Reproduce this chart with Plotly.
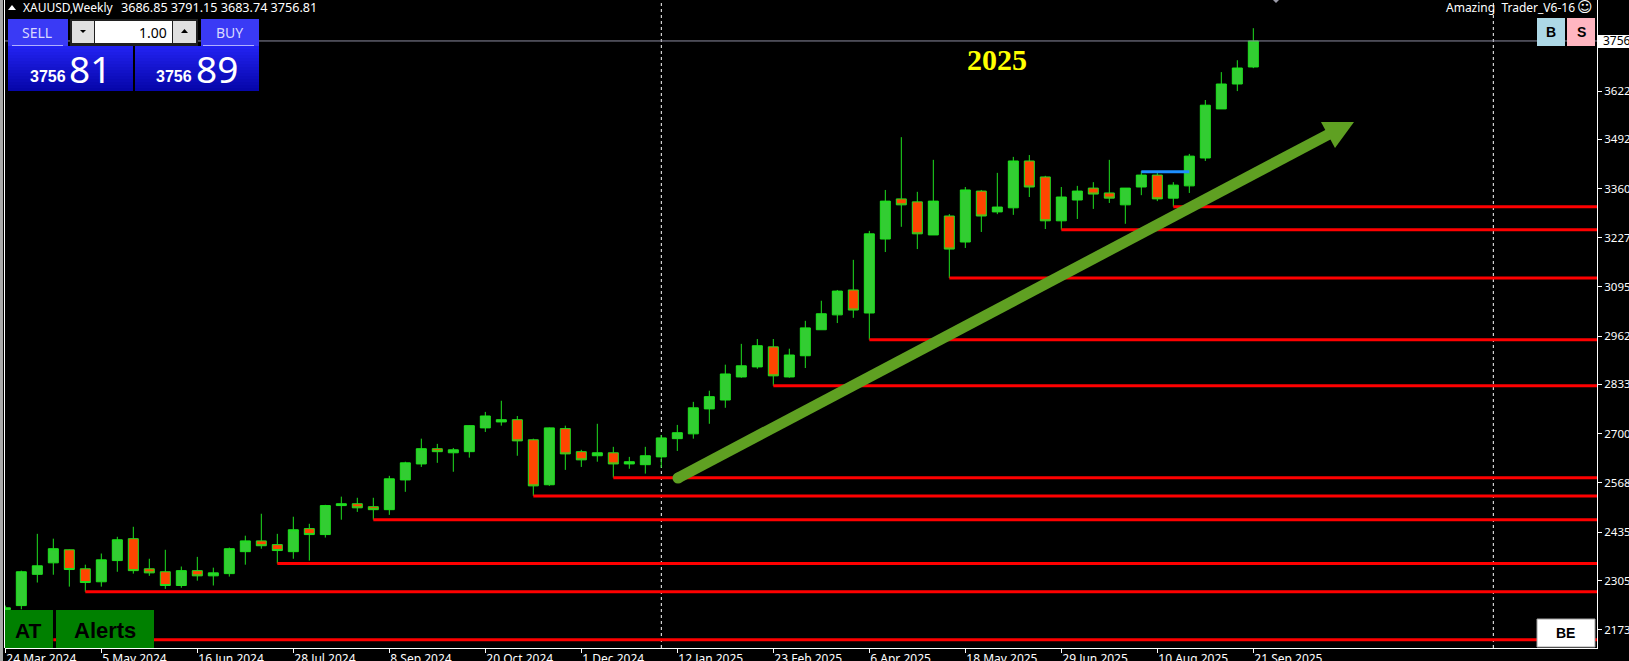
import plotly.graph_objects as go

# weekly XAUUSD candles, index = week number from 24 Mar 2024
opens = [2227, 2238, 2322, 2353, 2388, 2337, 2302, 2359, 2418, 2337, 2329, 2292, 2332, 2318, 2324, 2383,
         2412, 2402, 2383, 2445, 2429, 2507, 2512, 2504, 2496, 2576, 2619, 2660, 2649, 2652, 2716, 2732,
         2738, 2684, 2563, 2714, 2652, 2641, 2649, 2619, 2617, 2638, 2687, 2700, 2767, 2791, 2853, 2880,
         2934, 2853, 2910, 2980, 3020, 3087, 3025, 3224, 3332, 3324, 3235, 3286, 3216, 3353, 3297, 3308,
         3434, 3391, 3273, 3329, 3361, 3348, 3316, 3364, 3396, 3334, 3367, 3442, 3574, 3641, 3686.85]
highs = [2238, 2332, 2431, 2418, 2389, 2348, 2378, 2423, 2450, 2364, 2388, 2343, 2369, 2340, 2394, 2426,
         2485, 2431, 2477, 2458, 2509, 2531, 2528, 2528, 2587, 2625, 2687, 2673, 2662, 2723, 2759, 2789,
         2748, 2687, 2717, 2722, 2657, 2727, 2665, 2638, 2665, 2697, 2724, 2786, 2816, 2886, 2942, 2955,
         2955, 2929, 3004, 3058, 3087, 3168, 3246, 3356, 3498, 3351, 3437, 3291, 3364, 3356, 3402, 3445,
         3450, 3394, 3364, 3367, 3377, 3437, 3361, 3407, 3404, 3377, 3453, 3598, 3673, 3705, 3791.15]
lows = [2227, 2228, 2300, 2321, 2289, 2275, 2289, 2329, 2324, 2318, 2283, 2286, 2305, 2292, 2316, 2348,
        2391, 2351, 2364, 2359, 2421, 2469, 2490, 2469, 2482, 2544, 2611, 2622, 2598, 2636, 2705, 2722,
        2641, 2533, 2560, 2603, 2611, 2625, 2582, 2606, 2593, 2609, 2654, 2687, 2727, 2770, 2851, 2875,
        2829, 2851, 2877, 2980, 2998, 3012, 2953, 3189, 3257, 3197, 3235, 3119, 3200, 3243, 3291, 3289,
        3337, 3251, 3249, 3278, 3305, 3321, 3265, 3342, 3326, 3311, 3348, 3434, 3574, 3622, 3683.74]
closes = [2232, 2329, 2345, 2391, 2335, 2300, 2361, 2415, 2332, 2326, 2292, 2332, 2318, 2326, 2391, 2412,
          2399, 2386, 2442, 2429, 2507, 2512, 2501, 2496, 2579, 2622, 2660, 2652, 2657, 2722, 2748, 2738,
          2681, 2560, 2716, 2646, 2630, 2649, 2619, 2625, 2641, 2689, 2703, 2770, 2800, 2861, 2883, 2937,
          2856, 2912, 2985, 3023, 3084, 3033, 3238, 3326, 3316, 3238, 3326, 3197, 3356, 3286, 3310, 3434,
          3364, 3273, 3337, 3353, 3345, 3334, 3361, 3396, 3332, 3369, 3447, 3584, 3641, 3684, 3756.81]

x_tick_weeks = [0, 6, 12, 18, 24, 30, 36, 42, 48, 54, 60, 66, 72, 78]
x_tick_labels = ['24 Mar 2024', '5 May 2024', '16 Jun 2024', '28 Jul 2024', '8 Sep 2024', '20 Oct 2024',
                 '1 Dec 2024', '12 Jan 2025', '23 Feb 2025', '6 Apr 2025', '18 May 2025', '29 Jun 2025',
                 '10 Aug 2025', '21 Sep 2025']
y_ticks = [2173, 2305, 2435, 2568, 2700, 2833, 2962, 3095, 3227, 3360, 3492, 3622]

support_weeks = [3, 5, 17, 23, 33, 38, 48, 54, 59, 66, 73]
support_prices = [2146, 2275, 2351, 2469, 2533, 2582, 2829, 2953, 3119, 3249, 3311]
blue_weeks = [71, 74]
blue_price = [3405, 3405]
year_breaks = [41, 93]
last_price = 3756.81

W, H = 1629, 661
L, R, B = 5, 32, 13
PLOT_W, PLOT_H = W - L - R, H - B
X_RANGE = [-0.02, -0.02 + PLOT_W / 16]
Y_RANGE = [3867 - PLOT_H * 2.69, 3867]

FONT = 'Noto Sans'
WHITE = '#ffffff'
GREEN_EDGE = '#1fe01f'


def px(x):
    return (x - L) / PLOT_W


def py(y):
    return 1 - y / PLOT_H


def box(x0, y0, x1, y1, fill, line=None):
    return dict(type='rect', xref='paper', yref='paper', x0=px(x0), x1=px(x1), y0=py(y1), y1=py(y0),
                fillcolor=fill, line=dict(color=line or fill, width=1 if line else 0))


def poly(points, fill):
    d = 'M ' + ' L '.join(f'{px(a):.5f},{py(b):.5f}' for a, b in points) + ' Z'
    return dict(type='path', xref='paper', yref='paper', path=d, fillcolor=fill, line=dict(width=0))


def label(x, y, text, size=11.5, color=WHITE, anchor='center', family=FONT):
    return dict(x=px(x), y=py(y), xref='paper', yref='paper', text=text, showarrow=False,
                xanchor=anchor, yanchor='middle', font=dict(size=size, color=color, family=family),
                borderpad=0, borderwidth=0)


fig = go.Figure()

# price line, horizontal supports and the short blue level sit under the candles
fig.add_trace(go.Scatter(x=X_RANGE, y=[last_price, last_price], mode='lines',
                         line=dict(color='#8c8ca0', width=1)))
for wk, price in zip(support_weeks, support_prices):
    fig.add_trace(go.Scatter(x=[wk, X_RANGE[1]], y=[price, price], mode='lines',
                             line=dict(color='#ff0000', width=3)))
fig.add_trace(go.Scatter(x=blue_weeks, y=blue_price, mode='lines',
                         line=dict(color='#1e90ff', width=3)))

fig.add_trace(go.Candlestick(
    x=list(range(len(opens))), open=opens, high=highs, low=lows, close=closes,
    whiskerwidth=0,
    increasing=dict(line=dict(color=GREEN_EDGE, width=1), fillcolor='#32cd32'),
    decreasing=dict(line=dict(color=GREEN_EDGE, width=1), fillcolor='#ff4500'),
))

shapes = []
for wk in year_breaks:
    shapes.append(dict(type='line', xref='x', yref='paper', x0=wk, x1=wk, y0=0, y1=1, layer='below',
                       line=dict(color=WHITE, width=1, dash='3px,3px')))

# left window edge
shapes.append(box(0, 0, 3, H, '#a8a8a8'))
shapes.append(box(3, 0, 4, H, '#000000'))
shapes.append(dict(type='line', xref='paper', yref='paper', x0=px(4.5), x1=px(4.5), y0=py(648), y1=1,
                   line=dict(color=WHITE, width=1)))

# big green arrow
ARROW = '#5fa022'
shapes.append(dict(type='line', xref='paper', yref='paper', x0=px(678), y0=py(478), x1=px(1335), y1=py(131),
                   line=dict(color=ARROW, width=11)))
shapes.append(dict(type='circle', xref='paper', yref='paper', x0=px(672.5), x1=px(683.5), y0=py(483.5), y1=py(472.5),
                   fillcolor=ARROW, line=dict(width=0)))
shapes.append(poly([(1321, 122), (1354, 122), (1335, 148)], ARROW))

# small marker at the top
shapes.append(poly([(1273, 0), (1279, 0), (1276, 3)], '#9a9aa8'))

# one click trading panel
shapes.append(box(8, 19, 68, 46, '#3a3af5'))
shapes.append(box(201, 19, 259, 46, '#3a3af5'))
for k in range(15):
    top = 46 + k * 3
    c = f'rgb({34 - 2 * k},{34 - 2 * k},{240 - 5 * k})'
    shapes.append(box(8, top, 133, top + 3, c))
    shapes.append(box(135, top, 259, top + 3, c))
shapes.append(box(133, 46, 135, 91, '#000000'))
shapes.append(box(12, 45, 63, 46, '#b0b0ff'))
shapes.append(box(203, 45, 254, 46, '#b0b0ff'))
shapes.append(box(70, 19, 198, 46, '#202020'))
shapes.append(box(72, 21, 94, 43, '#e0e0e0'))
shapes.append(box(95, 21, 172, 43, '#ffffff'))
shapes.append(box(173, 21, 196, 43, '#e0e0e0'))
shapes.append(poly([(80, 30), (86, 30), (83, 33)], '#000000'))
shapes.append(poly([(181, 33), (188, 33), (184.5, 29)], '#000000'))
shapes.append(poly([(8, 10), (16, 10), (12, 5)], '#ffffff'))

# side buttons
shapes.append(box(5, 610, 53, 648, '#008000'))
shapes.append(box(56, 610, 154, 648, '#008000'))
shapes.append(box(1537, 18, 1565, 46, '#add8e6'))
shapes.append(box(1567, 18, 1595, 46, '#ffb6c1'))
shapes.append(box(1537, 619, 1595, 647, '#ffffff', '#a0a0a0'))

# current price flag on the right scale
shapes.append(box(1598, 35, 1629, 48, '#ffffff'))

annotations = [
    label(23, 7, 'XAUUSD,Weekly', size=12, anchor='left'),
    label(121, 7, '3686.85 3791.15 3683.74 3756.81', size=12.6, anchor='left'),
    label(37, 32, 'SELL', size=14, color='#d8d8ff'),
    label(229, 32, 'BUY', size=14, color='#d8d8ff'),
    label(167, 32, '1.00', size=14, color='#000000', anchor='right'),
    label(48, 77, '<b>3756</b>', size=16, family='Liberation Sans'),
    label(90, 68, '81', size=37),
    label(174, 77, '<b>3756</b>', size=16, family='Liberation Sans'),
    label(217, 68, '89', size=37),
    label(1510, 7, 'Amazing  Trader_V6-16', size=12),
    label(1585, 7, '☺', size=15, family='DejaVu Sans'),
    label(997, 60, '<b>2025</b>', size=30, color='#ffff00', family='Liberation Serif'),
    label(28, 630, '<b>AT</b>', size=21, color='#000000', family='Liberation Sans'),
    label(105, 630, '<b>Alerts</b>', size=22, color='#000000', family='Liberation Sans'),
    label(1551, 32, '<b>B</b>', size=14, color='#000000', family='Liberation Sans'),
    label(1581, 32, '<b>S</b>', size=14, color='#000000', family='Liberation Sans'),
    label(1565, 633, '<b>BE</b>', size=14, color='#000000', family='Liberation Sans'),
    label(1603, 41, '3756', size=12, color='#000000', anchor='left'),
]

fig.update_layout(
    width=W, height=H,
    margin=dict(l=L, r=R, t=0, b=B, pad=0),
    paper_bgcolor='#000000', plot_bgcolor='#000000',
    showlegend=False,
    boxgap=0.375,
    boxgroupgap=0,
    font=dict(family=FONT, size=11.5, color=WHITE),
    shapes=shapes,
    annotations=annotations,
    xaxis=dict(range=X_RANGE, rangeslider=dict(visible=False), showgrid=False, zeroline=False,
               tickmode='array', tickvals=x_tick_weeks, ticktext=x_tick_labels,
               tickfont=dict(size=12),
               ticks='outside', ticklen=4, tickcolor=WHITE, tickwidth=1,
               ticklabelposition='outside right', showline=True, linecolor=WHITE, linewidth=1,
               automargin=False),
    yaxis=dict(range=Y_RANGE, side='right', showgrid=False, zeroline=False,
               tickmode='array', tickvals=y_ticks, ticktext=[str(v) for v in y_ticks],
               ticks='outside', ticklen=4, tickcolor=WHITE, tickwidth=1,
               showline=True, linecolor=WHITE, linewidth=1, automargin=False),
)

fig.write_html("out.html", config=dict(displayModeBar=False),
               post_script="document.body.style.margin='0';document.body.style.overflow='hidden';")
